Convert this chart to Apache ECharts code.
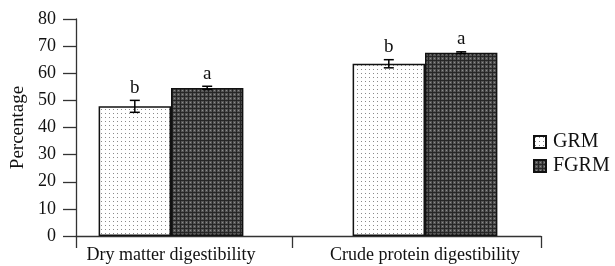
<!DOCTYPE html>
<html>
<head>
<meta charset="utf-8">
<script src="https://cdn.jsdelivr.net/npm/echarts@6/dist/echarts.min.js"></script>
<style>
  html, body { margin: 0; padding: 0; background: #fff; }
  #chart { width: 615px; height: 266px; }
</style>
</head>
<body>
<div id="chart"></div>
<script>
// data
const categories = ['Dry matter digestibility', 'Crude protein digestibility'];
const grmValues = [47.8, 63.5];
const fgrmValues = [54.6, 67.6];
const grmErrors = [2.2, 1.5];
const fgrmErrors = [0.6, 0.3];
const grmLetters = ['b', 'b'];
const fgrmLetters = ['a', 'a'];
const yTicks = [0, 80, 10]; // min, max, interval

const FONT = '"Liberation Serif", "Times New Roman", serif';
const BAR_FRAC = 0.285;

function makePattern(draw, w, h) {
  const c = document.createElement('canvas');
  c.width = w; c.height = h;
  draw(c.getContext('2d'));
  return { image: c, repeat: 'repeat' };
}
// light dotted fill
const dotted = makePattern(ctx => {
  ctx.fillStyle = '#ffffff';
  ctx.fillRect(0, 0, 4, 4);
  ctx.fillStyle = '#8a8a8a';
  ctx.fillRect(1, 1, 1, 1);
}, 4, 4);
// dark cross-hatched fill
const hatched = makePattern(ctx => {
  ctx.fillStyle = '#555555';
  ctx.fillRect(0, 0, 4, 4);
  ctx.fillStyle = '#262626';
  ctx.fillRect(0, 0, 4, 1);
  ctx.fillRect(0, 0, 1, 4);
  ctx.fillStyle = '#8c8c8c';
  ctx.fillRect(2, 2, 1, 1);
}, 4, 4);

function errorSeries(values, errors, letters, sign) {
  return {
    type: 'custom',
    xAxisIndex: 1,
    yAxisIndex: 1,
    silent: true,
    z: 5,
    data: values.map((v, i) => [i, v, errors[i], letters[i]]),
    renderItem: function (params, api) {
      const i = api.value(0), v = api.value(1), e = api.value(2);
      const band = api.size([1, 0])[0];
      const dx = sign * band * BAR_FRAC / 2;
      const hi = api.coord([i, v + e]);
      const lo = api.coord([i, v - e]);
      const x = hi[0] + dx;
      const cap = 5;
      const style = { stroke: '#000', lineWidth: 1.5 };
      return {
        type: 'group',
        children: [
          { type: 'line', shape: { x1: x, y1: hi[1], x2: x, y2: lo[1] }, style: style },
          { type: 'line', shape: { x1: x - cap, y1: hi[1], x2: x + cap, y2: hi[1] }, style: style },
          { type: 'line', shape: { x1: x - cap, y1: lo[1], x2: x + cap, y2: lo[1] }, style: style },
          {
            type: 'text',
            style: {
              text: letters[i], x: x, y: hi[1] - 3,
              align: 'center', verticalAlign: 'bottom',
              font: '19px ' + FONT, fill: '#111'
            }
          }
        ]
      };
    }
  };
}

const chart = echarts.init(document.getElementById('chart'));

const option = {
  animation: false,
  backgroundColor: '#fff',
  textStyle: { fontFamily: FONT },
  legend: {
    orient: 'vertical',
    left: 528,
    top: 127,
    itemWidth: 12,
    itemHeight: 12,
    itemGap: 4,
    icon: 'rect',
    textStyle: { fontFamily: FONT, fontSize: 20, color: '#111', padding: [0, 0, 0, 2] },
    data: ['GRM', 'FGRM']
  },
  grid: [
    // frame: y axis and x axis line
    { left: 76, right: 74, top: 19, bottom: 30 },
    // bars
    { left: 44, right: 63, top: 19, bottom: 30 }
  ],
  xAxis: [
    {
      type: 'value',
      gridIndex: 0,
      min: 0,
      max: 1,
      axisLine: { show: true, lineStyle: { color: '#333', width: 1.3 } },
      axisTick: { show: true, length: 12, customValues: [0, 0.465, 1], lineStyle: { color: '#333', width: 1.3 } },
      axisLabel: { show: false },
      splitLine: { show: false }
    },
    {
      type: 'category',
      gridIndex: 1,
      data: categories,
      axisLine: { show: false },
      axisTick: { show: false },
      axisLabel: { fontFamily: FONT, fontSize: 18, color: '#111', margin: 10, interval: 0, hideOverlap: false }
    }
  ],
  yAxis: [
    {
      type: 'value',
      gridIndex: 0,
      min: yTicks[0],
      max: yTicks[1],
      interval: yTicks[2],
      name: 'Percentage',
      nameLocation: 'middle',
      nameGap: 46,
      nameTextStyle: { fontFamily: FONT, fontSize: 19, color: '#111' },
      axisLine: { show: true, lineStyle: { color: '#333', width: 1.3 } },
      axisTick: { show: true, length: 13, lineStyle: { color: '#333', width: 1.3 } },
      axisLabel: { fontFamily: FONT, fontSize: 18, color: '#111', margin: 20 },
      splitLine: { show: false }
    },
    {
      type: 'value',
      gridIndex: 1,
      min: yTicks[0],
      max: yTicks[1],
      interval: yTicks[2],
      show: false,
      splitLine: { show: false }
    }
  ],
  series: [
    {
      name: 'GRM',
      type: 'bar',
      xAxisIndex: 1,
      yAxisIndex: 1,
      barWidth: (BAR_FRAC * 100) + '%',
      barGap: '0%',
      data: grmValues,
      itemStyle: { color: dotted, borderColor: '#111', borderWidth: 1.5 }
    },
    {
      name: 'FGRM',
      type: 'bar',
      xAxisIndex: 1,
      yAxisIndex: 1,
      barWidth: (BAR_FRAC * 100) + '%',
      barGap: '0%',
      data: fgrmValues,
      itemStyle: { color: hatched, borderColor: '#111', borderWidth: 1.5 }
    },
    errorSeries(grmValues, grmErrors, grmLetters, -1),
    errorSeries(fgrmValues, fgrmErrors, fgrmLetters, 1)
  ]
};

chart.setOption(option);
</script>
</body>
</html>
